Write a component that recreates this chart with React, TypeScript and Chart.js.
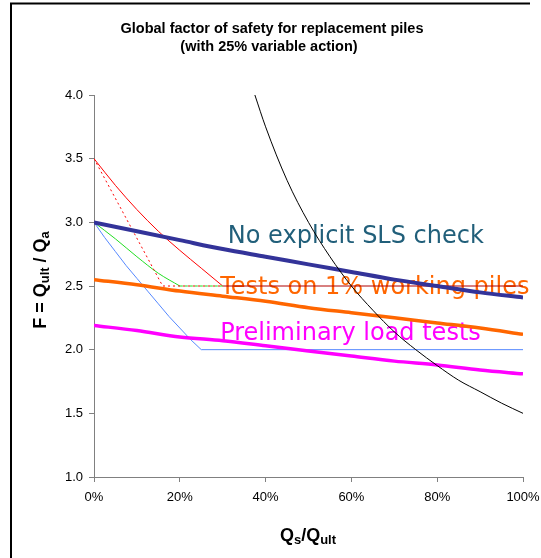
import React, { useEffect, useRef } from "react";
import { Chart, registerables } from "chart.js";

Chart.register(...registerables);

// ---------- data ----------
const xTicks10 = [0, 10, 20, 30, 40, 50, 60, 70, 80, 90, 100];
const noSlsCheck = [3.0, 2.93, 2.86, 2.79, 2.73, 2.67, 2.61, 2.55, 2.5, 2.45, 2.41];
const tests1pct = [2.55, 2.51, 2.46, 2.42, 2.38, 2.33, 2.29, 2.25, 2.21, 2.17, 2.12];
const prelimTests = [2.19, 2.15, 2.1, 2.07, 2.03, 1.99, 1.95, 1.91, 1.88, 1.84, 1.81];

const blueX = [0, 2.5, 5, 7.5, 10, 12.5, 15, 17.5, 20, 22.5, 25, 100];
const blueY = [3.0, 2.88, 2.77, 2.66, 2.56, 2.46, 2.36, 2.26, 2.17, 2.08, 2.0, 2.0];

const redX = [0, 5, 10, 15, 20, 25, 30];
const redY = [3.5, 3.29, 3.1, 2.93, 2.78, 2.64, 2.5];
const redFlatX = [30, 100];
const redFlatY = [2.5, 2.5];

const redDotX = [0, 16, 30];
const redDotY = [3.5, 2.5, 2.5];

const greenX = [0, 5, 10, 15, 20];
const greenY = [3.0, 2.87, 2.73, 2.6, 2.5];
const greenDashX = [20, 30];
const greenDashY = [2.5, 2.5];

const blackX = [37.5, 40, 45, 50, 55, 60, 65, 70, 75, 80, 85, 90, 95, 100];
const blackY = [4.0, 3.75, 3.33, 3.0, 2.73, 2.5, 2.31, 2.14, 2.0, 1.875, 1.76, 1.67, 1.58, 1.5];

const titleLines = ["Global factor of safety for replacement piles", "(with 25% variable action)"];
const seriesLabels = ["No explicit SLS check", "Tests on 1% working piles", "Preliminary load tests"];
const labelAnchorsX = [31.2, 29.4, 29.4];
const labelAnchorsY = [2.84, 2.437, 2.076];
const labelColors = ["#215F7A", "#FF6600", "#FF00FF"];

const xMin = 0, xMax = 100, xStep = 20;
const yMin = 1, yMax = 4, yStep = 0.5;

const pts = (xs: number[], ys: number[]) => xs.map((x, i) => ({ x, y: ys[i] }));

const SANS = "'Liberation Sans', Arial, sans-serif";

const textPlugin = {
  id: "customText",
  beforeDatasetsDraw(chart: any) {
    const { ctx, scales } = chart;
    ctx.save();
    ctx.font = "24px 'DejaVu Sans', Verdana, sans-serif";
    ctx.textBaseline = "alphabetic";
    ctx.textAlign = "left";
    seriesLabels.forEach((t, i) => {
      ctx.fillStyle = labelColors[i];
      ctx.fillText(t, scales.x.getPixelForValue(labelAnchorsX[i]), scales.y.getPixelForValue(labelAnchorsY[i]));
    });
    ctx.restore();
  },
  afterDraw(chart: any) {
    const { ctx } = chart;
    ctx.save();
    // frame
    ctx.strokeStyle = "#000";
    ctx.lineWidth = 2;
    ctx.beginPath();
    ctx.moveTo(530, 3.5);
    ctx.lineTo(11, 3.5);
    ctx.lineTo(11, 560);
    ctx.stroke();

    // title
    ctx.fillStyle = "#000";
    ctx.font = `bold 14.5px ${SANS}`;
    ctx.textAlign = "center";
    ctx.textBaseline = "alphabetic";
    ctx.fillText(titleLines[0], 272, 33);
    ctx.fillText(titleLines[1], 269, 51);

    const drawRuns = (runs: { t: string; sub?: boolean }[], cx: number, cy: number) => {
      const big = `bold 18px ${SANS}`;
      const small = `bold 13px ${SANS}`;
      let total = 0;
      runs.forEach((r) => {
        ctx.font = r.sub ? small : big;
        total += ctx.measureText(r.t).width;
      });
      let x = cx - total / 2;
      ctx.textAlign = "left";
      runs.forEach((r) => {
        ctx.font = r.sub ? small : big;
        ctx.fillText(r.t, x, cy + (r.sub ? 3 : 0));
        x += ctx.measureText(r.t).width;
      });
    };

    // x axis title
    drawRuns(
      [{ t: "Q" }, { t: "s", sub: true }, { t: "/Q" }, { t: "ult", sub: true }],
      308,
      541
    );

    // y axis title
    ctx.save();
    ctx.translate(46, 280);
    ctx.rotate(-Math.PI / 2);
    drawRuns(
      [{ t: "F = Q" }, { t: "ult", sub: true }, { t: " / Q" }, { t: "a", sub: true }],
      0,
      0
    );
    ctx.restore();
    ctx.restore();
  },
};

export default function App() {
  const ref = useRef<HTMLCanvasElement>(null);
  useEffect(() => {
    if (!ref.current) return;
    const thin = { pointRadius: 0, borderWidth: 1, fill: false, tension: 0 };
    const smooth = { cubicInterpolationMode: "monotone" };
    const chart = new Chart(ref.current, {
      type: "line",
      data: {
        datasets: [
          { ...thin, ...smooth, data: pts(blackX, blackY), borderColor: "#000000" },
          { ...thin, ...smooth, data: pts(xTicks10, noSlsCheck), borderColor: "#333399", borderWidth: 4 },
          { ...thin, ...smooth, data: pts(xTicks10, tests1pct), borderColor: "#FF6600", borderWidth: 3.5 },
          { ...thin, ...smooth, data: pts(xTicks10, prelimTests), borderColor: "#FF00FF", borderWidth: 3.5 },
          { ...thin, data: pts(greenDashX, greenDashY), borderColor: "#22DD22", borderDash: [3, 2] },
          { ...thin, data: pts(redDotX, redDotY), borderColor: "#FF0000", borderDash: [2, 3] },
          { ...thin, ...smooth, data: pts(greenX, greenY), borderColor: "#22DD22" },
          { ...thin, ...smooth, data: pts(redX, redY), borderColor: "#FF0000" },
          { ...thin, data: pts(redFlatX, redFlatY), borderColor: "#B00000" },
          { ...thin, data: pts(blueX, blueY), borderColor: "#5588FF" },
        ],
      },
      options: {
        responsive: false,
        animation: false,
        events: [],
        layout: { padding: { left: 0, top: 95, right: 18, bottom: 0 } },
        plugins: { legend: { display: false }, tooltip: { enabled: false }, title: { display: false } },
        scales: {
          x: {
            type: "linear",
            min: xMin,
            max: xMax,
            afterFit: (s: any) => {
              s.height = 81;
              s.paddingLeft = 0;
              s.paddingRight = 0;
            },
            ticks: {
              stepSize: xStep,
              color: "#000",
              padding: 8,
              maxRotation: 0,
              font: { family: SANS, size: 13 },
              callback: (v: any) => `${v}%`,
            },
            grid: { display: true, drawOnChartArea: false, drawTicks: true, tickLength: 5, color: "#808080" },
            border: { display: true, color: "#808080", width: 1 },
          },
          y: {
            type: "linear",
            min: yMin,
            max: yMax,
            afterFit: (s: any) => {
              s.width = 94;
              s.paddingTop = 0;
              s.paddingBottom = 0;
            },
            ticks: {
              stepSize: yStep,
              color: "#000",
              padding: 6,
              font: { family: SANS, size: 13 },
              callback: (v: any) => Number(v).toFixed(1),
            },
            grid: { display: true, drawOnChartArea: false, drawTicks: true, tickLength: 5, color: "#808080" },
            border: { display: true, color: "#808080", width: 1 },
          },
        },
      },
      plugins: [textPlugin],
    } as any);
    return () => chart.destroy();
  }, []);
  return (
    <div style={{ position: "absolute", left: 0, top: 0, width: 541, height: 558, background: "#fff" }}>
      <canvas ref={ref} width={541} height={558} style={{ display: "block" }} />
    </div>
  );
}
